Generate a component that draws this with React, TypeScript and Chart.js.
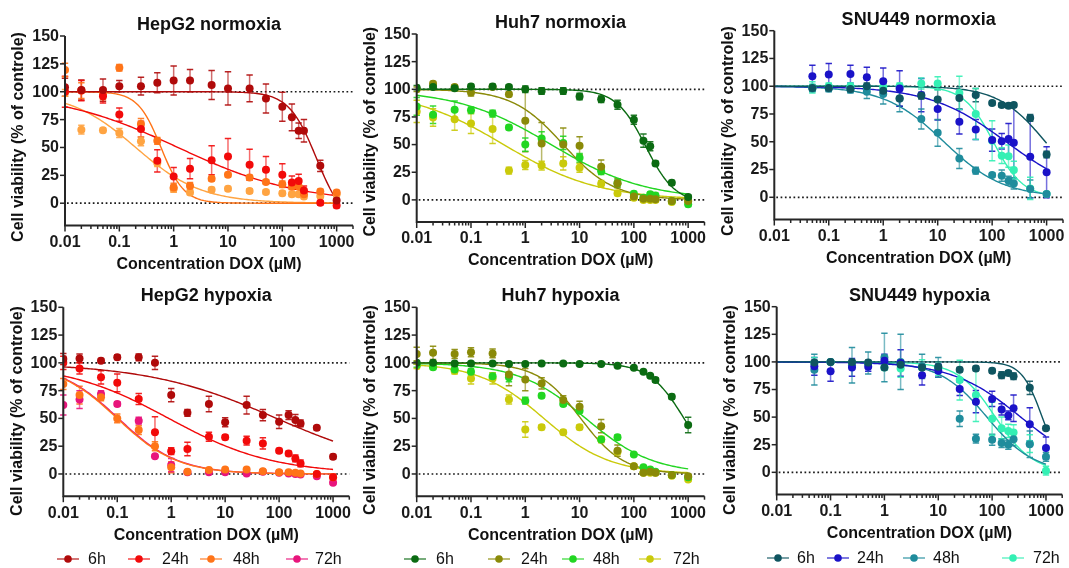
import React, { useEffect, useRef } from "react";
import { Chart, registerables } from "chart.js";
Chart.register(...registerables);

const W = 1069;
const H = 568;
const FONT = '"Liberation Sans", Arial, Helvetica, sans-serif';

// ---------- shared axis data ----------
const CONC_FULL = [0.01, 0.02, 0.05, 0.1, 0.25, 0.5, 1, 2, 5, 10, 25, 50, 100, 150, 200, 250, 500, 1000];
const CONC_SNU = [0.05, 0.1, 0.25, 0.5, 1, 2, 5, 10, 25, 50, 100, 150, 200, 250, 500, 1000];
const TIME_LABELS = ["6h", "24h", "48h", "72h"];
const Y_TICKS = [0, 25, 50, 75, 100, 125, 150];
const X_MAJOR = [0.01, 0.1, 1, 10, 100, 1000];
const X_TICK_LABELS = ["0.01", "0.1", "1", "10", "100", "1000"];
const REF_LINES = [0, 100];
const X_MIN = 0.01;
const X_MAX = 2000;
const Y_MIN = -20;
const Y_MAX = 150;

// ---------- HepG2 normoxia ----------
const HEPG2_N_6H = [104, 101.5, 101.5, 105, 105, 108, 110, 110, 106, 103, 103, 94, 86.5, 77, 65, 65, 33.5, 2.5];
const HEPG2_N_6H_SD = [8, 9, 10, 5, 8, 9, 13, 10, 13, 15, 12, 13, 13, 12, 7, 10, 5, 2];
const HEPG2_N_24H = [100, 101, 96, 79.5, 66.5, 38, 24, 31, 38.5, 42, 34.5, 30, 25.5, 18.5, 20, 11.5, 0.5, -2];
const HEPG2_N_24H_SD = [14, 9, 6, 6, 7, 10, 8, 9, 13, 16, 14, 12, 10, 6, 6, 4, 2, 2];
const HEPG2_N_48H = [119.5, 101, 98, 121.5, 71, 56, 14, 15.5, 22, 25.5, 23, 19, 17, 15, 15, 8, 10.5, 9.5];
const HEPG2_N_48H_SD = [6, 7, 5, 3, 5, 3, 4, 3, 2, 2, 2, 2, 3, 3, 2, 2, 2, 2];
const HEPG2_N_72H = [99, 66, 65.5, 63, 55.5, 36, 13, 9.5, 12, 13, 11, 10, 9, 8, 8, 6, 6.5, 8];
const HEPG2_N_72H_SD = [3, 4, 2, 4, 4, 3, 3, 2, 2, 2, 2, 2, 2, 2, 2, 2, 2, 2];
const HEPG2_N_FIT_BOTTOM = [-20, 0, 0, 0];
const HEPG2_N_FIT_IC50 = [428, 1.2, 0.585, 0.2];
const HEPG2_N_FIT_HILL = [1.7, 0.39, 2.05, 0.72];

// ---------- Huh7 normoxia ----------
const HUH7_N_6H = [101.5, 102, 101, 102.5, 102.5, 102, 100, 98.5, 98.5, 93.5, 91, 86, 72.5, 53.5, 48.5, 33, 15.5, 2.5];
const HUH7_N_6H_SD = [2, 2, 2, 2, 2, 2, 3, 3, 3, 3, 3, 4, 4, 6, 4, 2, 2, 2];
const HUH7_N_24H = [100, 105, 102, 97, 102, 95.5, 71.5, 51, 50, 49, 30, 15, 3, 1, 1, 0.5, -1, -1];
const HUH7_N_24H_SD = [2, 2, 2, 3, 2, 2, 28, 19, 15, 8, 6, 4, 2, 2, 2, 2, 2, 2];
const HUH7_N_48H = [84.5, 77, 81.5, 81, 78, 65.5, 50, 55.5, 51.5, 38, 26, 15, 5.5, 2, 5, 4, -1, -4];
const HUH7_N_48H_SD = [8, 8, 8, 3, 3, 2, 6, 6, 6, 4, 3, 3, 2, 2, 2, 2, 2, 2];
const HUH7_N_72H = [80, 74.5, 73, 69, 64, 26.5, 31.5, 31, 33, 29, 14.5, 6, 2, 0, 0, 0, -2, -1];
const HUH7_N_72H_SD = [10, 8, 10, 9, 13, 3, 4, 4, 6, 4, 3, 2, 2, 2, 2, 2, 2, 2];
const HUH7_N_FIT_BOTTOM = [-3, 0, 0, 0];
const HUH7_N_FIT_IC50 = [165, 5, 3, 0.4];
const HUH7_N_FIT_HILL = [1.6, 0.93, 0.5, 0.5];

// ---------- SNU449 normoxia ----------
const SNU_N_6H = [98.5, 98.5, 97.5, 100, 96, 89, 91.5, 88, 89.5, 92, 85, 83, 82.5, 83, 71.5, 38.5];
const SNU_N_6H_SD = [3, 3, 3, 3, 3, 7, 3, 9, 10, 6, 2, 2, 2, 2, 3, 3];
const SNU_N_24H = [109, 110.5, 111, 108, 104.5, 98, 92, 79.5, 68, 61, 51.5, 50.5, 52.5, 49, 36.5, 22.5];
const SNU_N_24H_SD = [10, 10, 8, 9, 12, 16, 15, 10, 11, 9, 10, 7, 14, 32, 37, 23];
const SNU_N_48H = [98, 98, 97, 95, 93, 89, 70.5, 58, 35, 24, 20, 19.5, 15, 12.5, 7.5, 3];
const SNU_N_48H_SD = [3, 3, 3, 6, 9, 12, 9, 12, 9, 3, 2, 5, 4, 5, 8, 2];
const SNU_N_72H = [99, 100, 100, 99, 99, 100, 102.5, 102.5, 94, 75, 51, 37.5, 37, 24.5, 8, 3];
const SNU_N_72H_SD = [5, 3, 3, 3, 3, 3, 5, 6, 15, 23, 18, 7, 10, 8, 10, 2];
const SNU_N_FIT_BOTTOM = [0, 0, 0, 0];
const SNU_N_FIT_IC50 = [950, 180, 13, 105];
const SNU_N_FIT_HILL = [1.0, 0.62, 0.8, 1.6];

// ---------- HepG2 hypoxia ----------
const HEPG2_H_6H = [103.5, 104, 102, 105, 105, 100, 71, 55, 63, 46.5, 62, 53, 47, 53, 48.5, 45.5, 41.5, 15.5];
const HEPG2_H_6H_SD = [5, 4, 2, 2, 3, 6, 6, 3, 7, 4, 8, 5, 6, 4, 5, 3, 2, 2];
const HEPG2_H_24H = [100, 95, 87, 82, 67.5, 37.5, 20.5, 22.5, 33.5, 33, 30, 27.5, 21, 18.5, 14, 9.5, 0, -3];
const HEPG2_H_24H_SD = [6, 5, 6, 8, 5, 14, 3, 6, 4, 2, 4, 5, 2, 2, 3, 3, 1, 3];
const HEPG2_H_48H = [81, 71, 69, 50, 39.5, 25, 6, 2, 3.5, 4, 4, 2.5, 1.5, 1.5, 1, 0.5, 0, -3];
const HEPG2_H_48H_SD = [5, 8, 3, 4, 4, 4, 5, 1, 1, 1, 1, 1, 1, 1, 1, 1, 1, 1];
const HEPG2_H_72H = [62, 67, 72, 63, 48, 16, 8, 1.5, 1.5, 1.5, 0.5, 2, 1, 0.5, 0, -0.5, -2, -8];
const HEPG2_H_72H_SD = [9, 8, 3, 2, 3, 1, 6, 1, 1, 1, 1, 1, 1, 1, 1, 1, 1, 1];
const HEPG2_H_FIT_BOTTOM = [0, 0, 0, 0];
const HEPG2_H_FIT_IC50 = [90, 0.9, 0.1, 0.105];
const HEPG2_H_FIT_HILL = [0.36, 0.45, 0.78, 0.78];

// ---------- Huh7 hypoxia ----------
const HUH7_H_6H = [100, 100, 99.5, 99.5, 99.5, 99, 99, 99.5, 99.5, 99, 99, 97.5, 95.5, 92, 88.5, 84.5, 69.5, 44];
const HUH7_H_6H_SD = [1, 1, 1, 1, 1, 1, 1, 1, 1, 1, 1, 1, 1, 1, 1, 2, 2, 7];
const HUH7_H_24H = [108, 109, 108, 109.5, 108.5, 89.5, 85, 81.5, 66.5, 60.5, 43, 21, 7, 1, 2, 1, -1, -2];
const HUH7_H_24H_SD = [6, 6, 4, 4, 4, 10, 10, 5, 4, 5, 6, 5, 2, 1, 1, 1, 1, 1];
const HUH7_H_48H = [98, 96, 94, 92, 88, 87, 66, 70.5, 63, 57, 31, 33, 17.5, 6, 4, 2, -1, -3];
const HUH7_H_48H_SD = [2, 2, 3, 3, 3, 4, 3, 2, 2, 2, 2, 2, 1, 1, 1, 1, 1, 1];
const HUH7_H_72H = [97, 97, 93, 86, 86, 67, 40, 42, 37.5, 42, 31, 20, 7, 1, 1, 1, -1.5, -5];
const HUH7_H_72H_SD = [2, 2, 3, 5, 5, 4, 7, 2, 2, 2, 3, 2, 2, 1, 1, 1, 1, 1];
const HUH7_H_FIT_BOTTOM = [0, 0, 0, 0];
const HUH7_H_FIT_IC50 = [840, 10.5, 13, 2.2];
const HUH7_H_FIT_HILL = [1.35, 1.1, 0.7, 0.72];

// ---------- SNU449 hypoxia ----------
const SNU_H_6H = [99.5, 100, 100, 99.5, 95, 97.5, 95, 95.5, 93, 94, 92, 88, 90, 87, 76.5, 40];
const SNU_H_6H_SD = [2, 2, 2, 2, 2, 2, 2, 2, 2, 2, 2, 3, 2, 3, 6, 2];
const SNU_H_24H = [96, 91.5, 95, 95.5, 101, 99, 88, 92, 75.5, 64, 66.5, 57, 51.5, 58, 43.5, 22];
const SNU_H_24H_SD = [8, 9, 8, 4, 6, 12, 9, 6, 6, 10, 7, 5, 4, 12, 15, 10];
const SNU_H_48H = [93, 100, 97, 99, 104, 100, 96, 95, 48.5, 30.5, 29.5, 26.5, 25, 30, 25.5, 14];
const SNU_H_48H_SD = [14, 2, 16, 10, 22, 25, 11, 9, 7, 4, 5, 4, 4, 6, 12, 4];
const SNU_H_72H = [99, 100, 99, 98, 95, 94, 95, 94, 83.5, 70, 48.5, 40, 37.5, 36, 26, 1.5];
const SNU_H_72H_SD = [5, 2, 2, 2, 2, 8, 7, 6, 18, 24, 15, 10, 6, 7, 8, 4];
const SNU_H_FIT_BOTTOM = [0, 0, 0, 0];
const SNU_H_FIT_IC50 = [850, 340, 80, 115];
const SNU_H_FIT_HILL = [2.3, 0.68, 1.0, 1.25];

const FIT_TOP = 100;

// ---------- styles ----------
const HEPG2_N_COLORS = ["#B00A0A", "#F20A0A", "#FF7418", "#FFA442"];
const HEPG2_H_COLORS = ["#B00A0A", "#F20A0A", "#FF7418", "#E8157C"];
const HUH7_COLORS = ["#0B6B12", "#8A8A08", "#22D622", "#CACA0A"];
const SNU_COLORS = ["#0F5560", "#1A12C8", "#1F8C9C", "#34F0B4"];

type Box = { L: number; R: number; T: number; B: number };
type Legend = { markers: number[]; texts: number[]; y: number };
type Panel = {
  title: string;
  conc: number[];
  values: number[][];
  errors: number[][];
  fitBottom: number[];
  fitIC50: number[];
  fitHill: number[];
  colors: string[];
  box: Box;
  yTitleY: number;
  legend?: Legend;
};

const PANELS: Panel[] = [
  {
    title: "HepG2 normoxia",
    conc: CONC_FULL,
    values: [HEPG2_N_6H, HEPG2_N_24H, HEPG2_N_48H, HEPG2_N_72H],
    errors: [HEPG2_N_6H_SD, HEPG2_N_24H_SD, HEPG2_N_48H_SD, HEPG2_N_72H_SD],
    fitBottom: HEPG2_N_FIT_BOTTOM, fitIC50: HEPG2_N_FIT_IC50, fitHill: HEPG2_N_FIT_HILL,
    colors: HEPG2_N_COLORS,
    box: { L: 65, R: 353, T: 36, B: 225.5 },
    yTitleY: 137,
  },
  {
    title: "Huh7 normoxia",
    conc: CONC_FULL,
    values: [HUH7_N_6H, HUH7_N_24H, HUH7_N_48H, HUH7_N_72H],
    errors: [HUH7_N_6H_SD, HUH7_N_24H_SD, HUH7_N_48H_SD, HUH7_N_72H_SD],
    fitBottom: HUH7_N_FIT_BOTTOM, fitIC50: HUH7_N_FIT_IC50, fitHill: HUH7_N_FIT_HILL,
    colors: HUH7_COLORS,
    box: { L: 416.7, R: 704.5, T: 34, B: 222 },
    yTitleY: 131.7,
  },
  {
    title: "SNU449 normoxia",
    conc: CONC_SNU,
    values: [SNU_N_6H, SNU_N_24H, SNU_N_48H, SNU_N_72H],
    errors: [SNU_N_6H_SD, SNU_N_24H_SD, SNU_N_48H_SD, SNU_N_72H_SD],
    fitBottom: SNU_N_FIT_BOTTOM, fitIC50: SNU_N_FIT_IC50, fitHill: SNU_N_FIT_HILL,
    colors: SNU_COLORS,
    box: { L: 774.3, R: 1063, T: 30.7, B: 219.5 },
    yTitleY: 131,
  },
  {
    title: "HepG2 hypoxia",
    conc: CONC_FULL,
    values: [HEPG2_H_6H, HEPG2_H_24H, HEPG2_H_48H, HEPG2_H_72H],
    errors: [HEPG2_H_6H_SD, HEPG2_H_24H_SD, HEPG2_H_48H_SD, HEPG2_H_72H_SD],
    fitBottom: HEPG2_H_FIT_BOTTOM, fitIC50: HEPG2_H_FIT_IC50, fitHill: HEPG2_H_FIT_HILL,
    colors: HEPG2_H_COLORS,
    box: { L: 63.3, R: 349.3, T: 307.3, B: 496.2 },
    yTitleY: 411,
    legend: { markers: [68, 139, 211, 297], texts: [88, 162, 233, 315], y: 559 },
  },
  {
    title: "Huh7 hypoxia",
    conc: CONC_FULL,
    values: [HUH7_H_6H, HUH7_H_24H, HUH7_H_48H, HUH7_H_72H],
    errors: [HUH7_H_6H_SD, HUH7_H_24H_SD, HUH7_H_48H_SD, HUH7_H_72H_SD],
    fitBottom: HUH7_H_FIT_BOTTOM, fitIC50: HUH7_H_FIT_IC50, fitHill: HUH7_H_FIT_HILL,
    colors: HUH7_COLORS,
    box: { L: 416.7, R: 704.5, T: 307.3, B: 496.2 },
    yTitleY: 410,
    legend: { markers: [415, 499, 573, 650], texts: [436, 521, 593, 673], y: 559 },
  },
  {
    title: "SNU449 hypoxia",
    conc: CONC_SNU,
    values: [SNU_H_6H, SNU_H_24H, SNU_H_48H, SNU_H_72H],
    errors: [SNU_H_6H_SD, SNU_H_24H_SD, SNU_H_48H_SD, SNU_H_72H_SD],
    fitBottom: SNU_H_FIT_BOTTOM, fitIC50: SNU_H_FIT_IC50, fitHill: SNU_H_FIT_HILL,
    colors: SNU_COLORS,
    box: { L: 776.7, R: 1062.2, T: 306.7, B: 494.4 },
    yTitleY: 410,
    legend: { markers: [778, 838, 914, 1013], texts: [797, 857, 933, 1033], y: 558 },
  },
];

function rgba(hex: string, a: number) {
  const n = parseInt(hex.slice(1), 16);
  return `rgba(${(n >> 16) & 255},${(n >> 8) & 255},${n & 255},${a})`;
}

// 4-parameter logistic fit (parameters), drawn as the fitted curve
function fitCurve(top: number, bottom: number, ic50: number, hill: number) {
  const pts: { x: number; y: number }[] = [];
  const N = 160;
  for (let k = 0; k <= N; k++) {
    const x = Math.pow(10, -2 + (5 * k) / N);
    pts.push({ x, y: bottom + (top - bottom) / (1 + Math.pow(x / ic50, hill)) });
  }
  return pts;
}

function makePlugin(p: Panel) {
  return {
    id: "panelDecor",
    beforeDatasetsDraw(chart: any) {
      const { ctx, chartArea, scales } = chart;
      const { left, right } = chartArea;
      const x = scales.x, y = scales.y;
      ctx.save();
      // dotted reference lines
      ctx.strokeStyle = "#1a1a1a";
      ctx.lineWidth = 1.7;
      ctx.setLineDash([1.7, 2.6]);
      for (const v of REF_LINES) {
        const py = y.getPixelForValue(v);
        ctx.beginPath();
        ctx.moveTo(left + 2, py);
        ctx.lineTo(right, py);
        ctx.stroke();
      }
      ctx.setLineDash([]);
      // error bars
      chart.data.datasets.forEach((ds: any) => {
        if (!ds.errs) return;
        ds.data.forEach((pt: any, j: number) => {
          const e = ds.errs[j];
          if (!e) return;
          const px = x.getPixelForValue(pt.x);
          const y1 = y.getPixelForValue(pt.y + e);
          const y2 = y.getPixelForValue(pt.y - e);
          ctx.lineWidth = 1.5;
          ctx.strokeStyle = rgba(ds.baseColor, 0.6);
          ctx.beginPath();
          ctx.moveTo(px, y1);
          ctx.lineTo(px, y2);
          ctx.stroke();
          ctx.strokeStyle = rgba(ds.baseColor, 0.9);
          ctx.beginPath();
          ctx.moveTo(px - 3.2, y1);
          ctx.lineTo(px + 3.2, y1);
          ctx.moveTo(px - 3.2, y2);
          ctx.lineTo(px + 3.2, y2);
          ctx.stroke();
        });
      });
      ctx.restore();
    },
    afterDatasetsDraw(chart: any) {
      const { ctx, chartArea, scales } = chart;
      const { left, right, top, bottom } = chartArea;
      const x = scales.x, y = scales.y;
      ctx.save();
      // axes
      ctx.strokeStyle = "#262626";
      ctx.lineWidth = 2;
      ctx.beginPath();
      ctx.moveTo(left, top);
      ctx.lineTo(left, bottom + 1);
      ctx.moveTo(left - 1, bottom);
      ctx.lineTo(right, bottom);
      ctx.stroke();
      // y ticks
      ctx.lineWidth = 1.5;
      for (const v of Y_TICKS) {
        const py = y.getPixelForValue(v);
        ctx.beginPath();
        ctx.moveTo(left - 5, py);
        ctx.lineTo(left, py);
        ctx.stroke();
      }
      // x ticks (log, major + minor)
      for (let d = -2; d <= 3; d++) {
        for (let m = 1; m <= 9; m++) {
          const v = m * Math.pow(10, d);
          if (v > X_MAX * 1.0001) break;
          const px = x.getPixelForValue(v);
          const len = m === 1 ? 6 : 3.5;
          ctx.beginPath();
          ctx.moveTo(px, bottom);
          ctx.lineTo(px, bottom + len);
          ctx.stroke();
        }
      }
      // tick labels
      ctx.fillStyle = "#1a1a1a";
      ctx.font = `bold 16px ${FONT}`;
      ctx.textAlign = "right";
      ctx.textBaseline = "middle";
      for (const v of Y_TICKS) {
        ctx.fillText(String(v), left - 6, y.getPixelForValue(v) + 0.5);
      }
      ctx.textAlign = "center";
      X_MAJOR.forEach((v, i) => {
        ctx.fillText(X_TICK_LABELS[i], x.getPixelForValue(v), bottom + 17);
      });
      // axis titles
      const cx = (left + right) / 2;
      ctx.fillStyle = "#111";
      ctx.font = `bold 16px ${FONT}`;
      ctx.fillText("Concentration DOX (\u00b5M)", cx, bottom + 39);
      ctx.save();
      ctx.translate(left - 46, p.yTitleY);
      ctx.rotate(-Math.PI / 2);
      ctx.fillText("Cell viability (% of controle)", 0, 0);
      ctx.restore();
      // title
      ctx.font = `bold 18px ${FONT}`;
      ctx.fillText(p.title, cx, top - 11);
      // legend
      if (p.legend) {
        const lg = p.legend;
        ctx.font = `16px ${FONT}`;
        ctx.textAlign = "left";
        TIME_LABELS.forEach((lab, i) => {
          const mx = lg.markers[i];
          const col = p.colors[i];
          ctx.strokeStyle = rgba(col, 0.7);
          ctx.lineWidth = 1.6;
          ctx.beginPath();
          ctx.moveTo(mx - 11, lg.y);
          ctx.lineTo(mx + 11, lg.y);
          ctx.stroke();
          ctx.fillStyle = col;
          ctx.beginPath();
          ctx.arc(mx, lg.y, 3.8, 0, Math.PI * 2);
          ctx.fill();
          ctx.fillStyle = "#111";
          ctx.fillText(lab, lg.texts[i], lg.y + 0.5);
        });
      }
      ctx.restore();
    },
  };
}

function PanelChart({ p }: { p: Panel }) {
  const ref = useRef<HTMLCanvasElement | null>(null);
  useEffect(() => {
    if (!ref.current) return;
    const datasets: any[] = [];
    p.values.forEach((vals, i) => {
      datasets.push({
        label: TIME_LABELS[i],
        data: p.conc.map((c, j) => ({ x: c, y: vals[j] })),
        errs: p.errors[i],
        baseColor: p.colors[i],
        backgroundColor: p.colors[i],
        borderColor: p.colors[i],
        pointRadius: 4,
        pointBorderWidth: 0,
        showLine: false,
        order: i,
      });
    });
    p.values.forEach((_, i) => {
      datasets.push({
        label: TIME_LABELS[i] + " fit",
        data: fitCurve(FIT_TOP, p.fitBottom[i], p.fitIC50[i], p.fitHill[i]),
        borderColor: p.colors[i],
        backgroundColor: p.colors[i],
        borderWidth: 1.4,
        pointRadius: 0,
        showLine: true,
        fill: false,
        tension: 0,
        order: 10 + i,
      });
    });
    const chart = new Chart(ref.current, {
      type: "scatter",
      data: { datasets },
      options: {
        responsive: false,
        animation: false,
        devicePixelRatio: 1,
        events: [],
        layout: {
          padding: { left: p.box.L, right: W - p.box.R, top: p.box.T, bottom: H - p.box.B },
        },
        scales: {
          x: { type: "logarithmic", min: X_MIN, max: X_MAX, display: false, bounds: "data" },
          y: { type: "linear", min: Y_MIN, max: Y_MAX, display: false },
        },
        plugins: { legend: { display: false }, tooltip: { enabled: false }, title: { display: false } },
      } as any,
      plugins: [makePlugin(p)],
    });
    return () => chart.destroy();
  }, [p]);
  return (
    <canvas
      ref={ref}
      width={W}
      height={H}
      style={{ position: "absolute", left: 0, top: 0, width: W, height: H }}
    />
  );
}

export default function App() {
  return (
    <div style={{ position: "absolute", left: 0, top: 0, width: W, height: H, background: "#fff", overflow: "hidden" }}>
      {PANELS.map((p, i) => (
        <PanelChart key={i} p={p} />
      ))}
    </div>
  );
}
